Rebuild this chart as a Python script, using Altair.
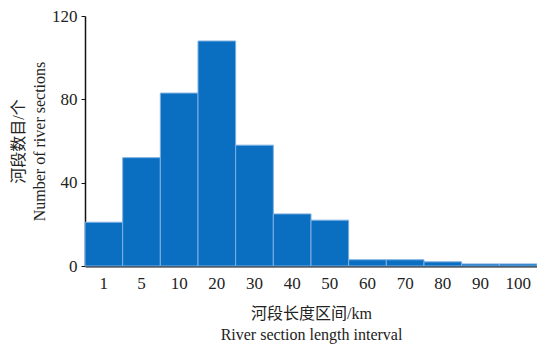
import altair as alt
import pandas as pd

categories = ["1", "5", "10", "20", "30", "40", "50", "60", "70", "80", "90", "100"]
counts = [21, 52, 83, 108, 58, 25, 22, 3, 3, 2, 1, 1]
y_ticks = [0, 40, 80, 120]
x_title = ["河段长度区间/km", "River section length interval"]
y_title = ["河段数目/个", "Number of river sections"]

df = pd.DataFrame({"interval": categories, "count": counts})

FONT = "Liberation Serif, Noto Sans CJK SC"

chart = (
    alt.Chart(df)
    .mark_bar(color="#0b6fc1", stroke="#7fb0e3", strokeWidth=1)
    .encode(
        x=alt.X(
            "interval:N",
            sort=categories,
            scale=alt.Scale(paddingInner=0, paddingOuter=0),
            axis=alt.Axis(
                title=x_title,
                labelAngle=0,
                ticks=False,
                labelPadding=9,
                labelFontSize=17,
                labelFont=FONT,
                labelColor="#222",
                domainColor="#111",
                domainWidth=2,
                titleFont=FONT,
                titleFontSize=16,
                titleFontWeight="normal",
                titleColor="#222",
                titleLineHeight=21,
                titlePadding=14,
            ),
        ),
        y=alt.Y(
            "count:Q",
            scale=alt.Scale(domain=[0, 120], nice=False),
            axis=alt.Axis(
                title=y_title,
                values=y_ticks,
                grid=False,
                tickSize=4,
                tickColor="#111",
                labelPadding=4,
                labelFontSize=17,
                labelFont=FONT,
                labelColor="#222",
                domainColor="#111",
                domainWidth=1.5,
                titleFont=FONT,
                titleFontSize=16,
                titleFontWeight="normal",
                titleColor="#222",
                titleLineHeight=21,
                titlePadding=4,
            ),
        ),
    )
    .properties(
        width=452,
        height=250,
        autosize=alt.AutoSizeParams(type="none"),
        padding={"left": 77, "top": 8, "right": 0, "bottom": 80},
    )
    .configure_view(stroke=None)
)

chart.save("out.html", embed_options={"renderer": "svg", "actions": False})
